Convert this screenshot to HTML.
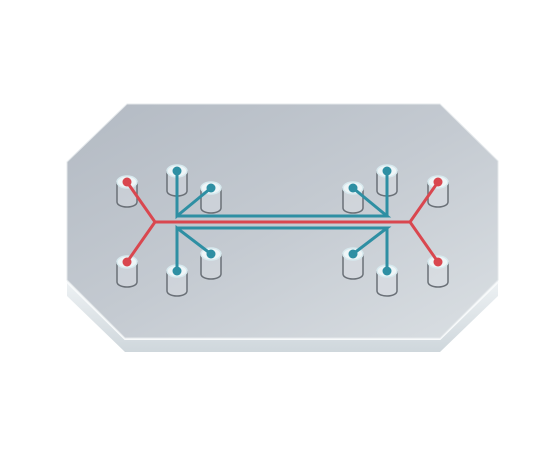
<!DOCTYPE html>
<html><head><meta charset="utf-8"><style>
html,body{margin:0;padding:0;background:#fff;width:556px;height:452px;overflow:hidden}
</style></head><body>
<svg width="556" height="452" viewBox="0 0 556 452" xmlns="http://www.w3.org/2000/svg">
<defs>
<linearGradient id="top" x1="0" y1="0" x2="1" y2="1">
<stop offset="0" stop-color="#b3bac3"/><stop offset="0.5" stop-color="#c4cad1"/><stop offset="1" stop-color="#dadfe3"/>
</linearGradient>
<linearGradient id="side" x1="0" y1="0" x2="0" y2="1">
<stop offset="0" stop-color="#eef2f4"/><stop offset="1" stop-color="#cfd7dc"/>
</linearGradient>
</defs>
<g>
<polygon points="67,280 125,338 440,338 498,280 498,296 440,352 125,352 67,296" fill="url(#side)"/>
<polyline points="67,282 125,339 440,339 498,282" fill="none" stroke="#f8fafb" stroke-width="2"/>
</g>
<polygon points="127,104 440,104 498,161 498,280 440,338 125,338 67,280 67,162" fill="url(#top)" stroke="#e4e8eb" stroke-width="1"/>
<g id="ports"></g>
<g fill="none" stroke-linecap="round" stroke-width="3">
<path stroke="#d9474f" d="M127,182 L155,222 L127,262 M155,222 L410,222 M438,182 L410,222 L438,262"/>
<path stroke="#2e8fa3" d="M177,171 L177,216 L211,188 M177,216 L387,216 L353,188 M387,216 L387,171"/>
<path stroke="#2e8fa3" d="M177,271 L177,228 L211,254 M177,228 L387,228 L353,254 M387,228 L387,271"/>
</g>
<g id="dots"></g>
</svg>
<script>
const ns='http://www.w3.org/2000/svg';
const ports=[[127,182,'red'],[127,262,'red'],[438,182,'red'],[438,262,'red'],
[177,171,'teal'],[211,188,'teal'],[211,254,'teal'],[177,271,'teal'],
[387,171,'teal'],[353,188,'teal'],[353,254,'teal'],[387,271,'teal']];
const pg=document.getElementById('ports'),dg=document.getElementById('dots');
function mk(t,a,p){const e=document.createElementNS(ns,t);for(const k in a)e.setAttribute(k,a[k]);p.appendChild(e);return e;}
ports.forEach(([x,y,c],i)=>{
 const g=mk('g',{},pg);
 
 
 mk('path',{d:`M${x-10},${y} L${x-10},${y+20} A10,5 0 0 0 ${x+10},${y+20} L${x+10},${y}`,fill:'rgba(225,230,234,0.35)',stroke:'#6a7077','stroke-width':1.5},g);
 mk('ellipse',{cx:x,cy:y,rx:10,ry:6,fill:'#eef5f7',stroke:'#d7e9ee','stroke-width':1.5},g);
 const d=mk('circle',{cx:x,cy:y,r:4.5,fill:c==='red'?'#d9474f':'#2e8fa3'},dg);
 
 
});
</script>
</body></html>
